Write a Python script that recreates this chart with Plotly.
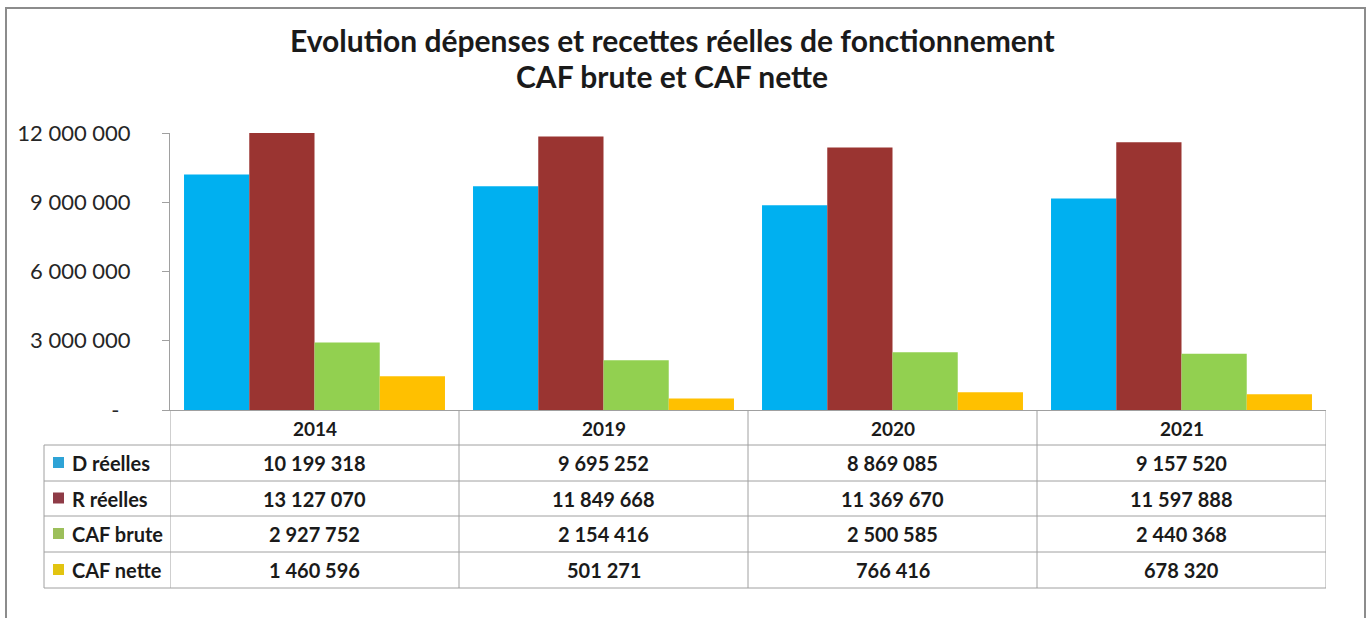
import plotly.graph_objects as go

years = ["2014", "2019", "2020", "2021"]
series_names = ["D réelles", "R réelles", "CAF brute", "CAF nette"]
d_reelles = [10199318, 9695252, 8869085, 9157520]
r_reelles = [13127070, 11849668, 11369670, 11597888]
caf_brute = [2927752, 2154416, 2500585, 2440368]
caf_nette = [1460596, 501271, 766416, 678320]
colors = ["#00B0F0", "#9A3431", "#92D050", "#FFC000"]
key_colors = ["#2EA3D6", "#8E3B46", "#9CBF5A", "#E2C410"]
y_tickvals = [0, 3000000, 6000000, 9000000, 12000000]
y_ticktext = ["-\u00a0\u00a0", "3 000 000", "6 000 000", "9 000 000", "12 000 000"]

W, H = 1367, 618
L, R, T, B = 170, 1326, 133, 410


def px(x):
    return (x - L) / (R - L)


def py(y):
    return (B - y) / (B - T)


def fmt(v):
    return f"{v:,}".replace(",", " ")


values = [d_reelles, r_reelles, caf_brute, caf_nette]
FONT = "Lato"

fig = go.Figure()
for name, vals, col in zip(series_names, values, colors):
    fig.add_trace(go.Bar(x=years, y=vals, name=name, marker=dict(color=col, line=dict(width=0))))

shapes = []
line_col = "#A0A0A0"
# outer frame
shapes.append(dict(type="rect", xref="paper", yref="paper", x0=px(6), x1=px(1365), y0=py(640), y1=py(8),
                   line=dict(color="#8C8C8C", width=2), layer="below"))
# table horizontal lines
row_lines = [445, 481, 516, 552, 588]
for yy in row_lines:
    shapes.append(dict(type="line", xref="paper", yref="paper", x0=px(44), x1=px(R), y0=py(yy), y1=py(yy),
                       line=dict(color=line_col, width=1)))
# table vertical lines (category boundaries)
for i in range(len(years) + 1):
    shapes.append(dict(type="line", xref="x", yref="paper", x0=i - 0.5, x1=i - 0.5, y0=py(B), y1=py(588),
                       line=dict(color=line_col, width=1)))
shapes.append(dict(type="line", xref="paper", yref="paper", x0=px(44), x1=px(44), y0=py(445), y1=py(588),
                   line=dict(color=line_col, width=1)))

annotations = []
# year headers
for i, yr in enumerate(years):
    annotations.append(dict(x=i, y=py(428), xref="x", yref="paper", text=f"<b>{yr}</b>", showarrow=False,
                            font=dict(family=FONT, size=19, color="#1A1A1A"), xanchor="center", yanchor="middle"))
row_centers = [463, 498.5, 534, 570]
for name, vals, kc, yc in zip(series_names, values, key_colors, row_centers):
    shapes.append(dict(type="rect", xref="paper", yref="paper", x0=px(53), x1=px(64), y0=py(yc + 5), y1=py(yc - 6),
                       fillcolor=kc, line=dict(width=0)))
    annotations.append(dict(x=px(70), y=py(yc), xref="paper", yref="paper", text=f"<b>{name}</b>", showarrow=False,
                            font=dict(family=FONT, size=20, color="#1A1A1A"), xanchor="left", yanchor="middle"))
    for i, v in enumerate(vals):
        annotations.append(dict(x=i, y=py(yc), xref="x", yref="paper", text=f"<b>{fmt(v)}</b>", showarrow=False,
                                font=dict(family=FONT, size=20, color="#1A1A1A"), xanchor="center", yanchor="middle"))

# title
annotations.append(dict(x=px(672), y=py(40), xref="paper", yref="paper",
                        text="<b>Evolution dépenses et recettes réelles de fonctionnement</b>", showarrow=False,
                        font=dict(family=FONT, size=30, color="#1A1A1A"), xanchor="center", yanchor="middle"))
annotations.append(dict(x=px(672), y=py(76), xref="paper", yref="paper",
                        text="<b>CAF brute et CAF nette</b>", showarrow=False,
                        font=dict(family=FONT, size=30, color="#1A1A1A"), xanchor="center", yanchor="middle"))

fig.update_layout(
    width=W, height=H,
    margin=dict(l=L, r=W - R, t=T, b=H - B, autoexpand=False),
    paper_bgcolor="white", plot_bgcolor="white",
    barmode="group", bargap=0.097, bargroupgap=0,
    showlegend=False,
    shapes=shapes, annotations=annotations,
    xaxis=dict(type="category", range=[-0.5, len(years) - 0.5], showticklabels=False, showline=True,
               linecolor=line_col, linewidth=1, ticks="", showgrid=False, zeroline=False, fixedrange=True),
    yaxis=dict(range=[0, 12000000], tickvals=y_tickvals, ticktext=y_ticktext, showline=True,
               linecolor=line_col, linewidth=1, ticks="outside", ticklen=7, tickcolor=line_col,
               showgrid=False, zeroline=False, ticklabelstandoff=27,
               tickfont=dict(family=FONT, size=22, color="#262626")),
)

fig.write_html("out.html", config={"displayModeBar": False},
               post_script="document.body.style.margin='0';document.body.style.overflow='hidden';")
